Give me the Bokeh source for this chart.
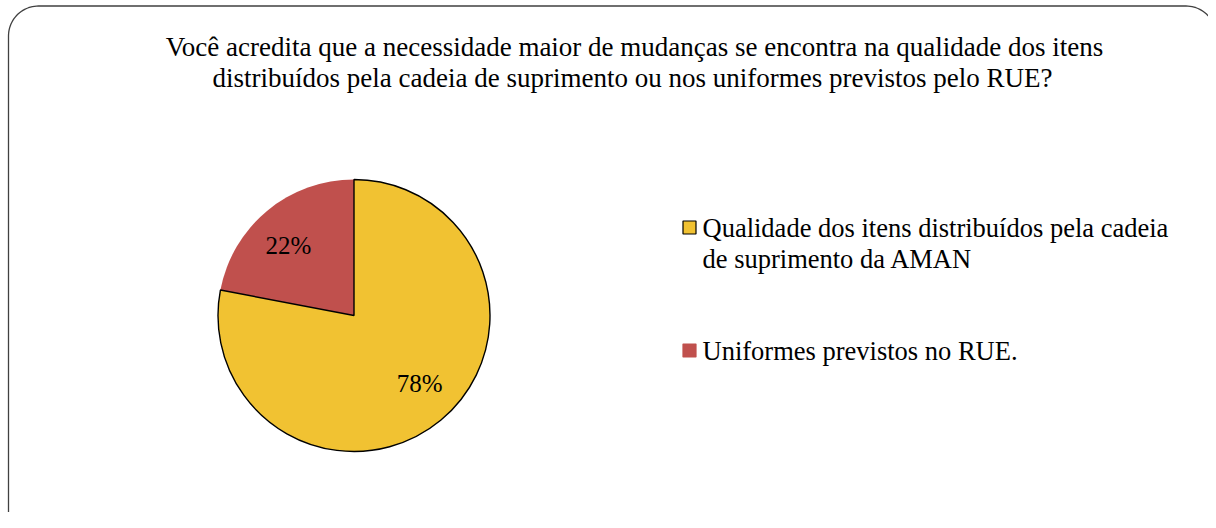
import numpy as np
from bokeh.plotting import figure
from bokeh.models import Range1d
from bokeh.core.properties import value
from bokeh.embed import file_html
from bokeh.resources import INLINE

# ---- data ----
title_lines = [
    "Você acredita que a necessidade maior de mudanças se encontra na qualidade dos itens",
    "distribuídos pela cadeia de suprimento ou nos uniformes previstos pelo RUE?",
]
categories = [
    "Qualidade dos itens distribuídos pela cadeia de suprimento da AMAN",
    "Uniformes previstos no RUE.",
]
legend_lines = [
    ["Qualidade dos itens distribuídos pela cadeia", "de suprimento da AMAN"],
    ["Uniformes previstos no RUE."],
]
shares = [78, 22]
colors = ["#F1C232", "#C0504D"]
outline = ["black", None]

W, H = 1208, 512
FONT = "Liberation Serif"

def X(xs):
    return xs

def Y(ys):
    return H - ys

p = figure(width=W, height=H, output_backend="svg", toolbar_location=None,
           x_range=Range1d(0, W), y_range=Range1d(0, H), min_border=0,
           outline_line_color=None, background_fill_color="white")
p.axis.visible = False
p.grid.visible = False

# rounded frame
r = 30
top, left, right, bottom = 5.5, 8.0, 1215.5, 560.0
t = np.linspace(0, np.pi / 2, 24)
xs = [left, left]
ys = [bottom, top + r]
xs += list(left + r - r * np.cos(t))
ys += list(top + r - r * np.sin(t))
xs += [right - r]
ys += [top]
xs += list(right - r + r * np.sin(t))
ys += list(top + r - r * np.cos(t))
xs += [right]
ys += [bottom]
p.line(x=[X(v) for v in xs], y=[Y(v) for v in ys], line_color="#404040", line_width=1.3)

# pie (clockwise from 12 o'clock, first slice first)
cx, cy, R = 353.5, 315.0, 136.0
fr = np.array(shares, dtype=float) / sum(shares)
cum = np.concatenate([[0], np.cumsum(fr)])
start_cw = np.pi / 2 - cum[:-1] * 2 * np.pi
end_cw = np.pi / 2 - cum[1:] * 2 * np.pi
for i in [1, 0]:
    p.wedge(x=X(cx), y=Y(cy), radius=R, radius_units="screen",
            start_angle=end_cw[i], end_angle=start_cw[i], direction="anticlock",
            fill_color=colors[i],
            line_color=outline[i] if outline[i] else None, line_width=1.4)

# pie labels near mid angle
mid = (start_cw + end_cw) / 2 + np.deg2rad(4)
lr = 0.70 * R
lx = [X(cx + lr * np.cos(a)) for a in mid]
ly = [Y(cy - lr * np.sin(a) - 1) for a in mid]
p.text(x=lx, y=ly, text=[f"{v}%" for v in shares], text_font=value(FONT),
       text_font_size="25px", text_align="center", text_baseline="middle",
       text_color="black")

# title
p.text(x=[X(634), X(632)], y=[Y(46), Y(77)], text=title_lines, text_font=value(FONT),
       text_font_size="27px", text_align="center", text_baseline="middle", text_color="black")

# legend
leg_y = [227, 350]
p.rect(x=[X(689)] * 2, y=[Y(v) for v in leg_y], width=13, height=13,
       width_units="screen", height_units="screen", fill_color=colors,
       line_color=["black", colors[1]], line_width=1.2)
for i, lines in enumerate(legend_lines):
    for j, s in enumerate(lines):
        p.text(x=[X(702)], y=[Y(leg_y[i] + 31 * j)], text=[s], text_font=value(FONT),
               text_font_size="26.5px", text_align="left", text_baseline="middle",
               text_color="black")

open("out.html", "w").write(file_html(p, INLINE))
